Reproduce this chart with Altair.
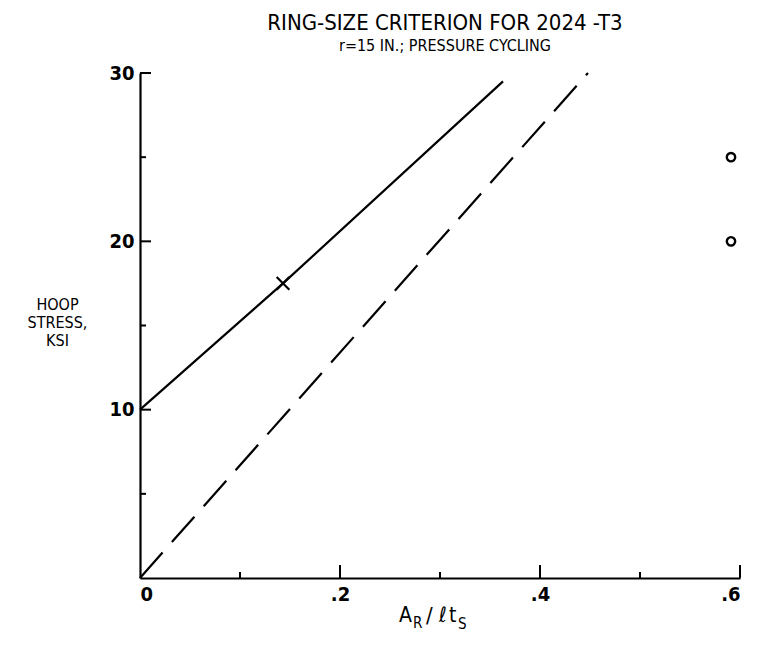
import altair as alt
import pandas as pd

# ---- data ----
solid_x = [0.0, 0.143, 0.363]
solid_y = [10.0, 17.5, 29.5]
dashed_x = [0.0, 0.448]
dashed_y = [0.0, 30.0]
cross_x = [0.143]
cross_y = [17.5]
circle_x = [0.591, 0.591]
circle_y = [25.0, 20.0]
x_major = [0.2, 0.4, 0.6]
x_minor = [0.1, 0.3, 0.5]
y_major = [10, 20, 30]
y_minor = [5, 15, 25]
x_labels = [0.0, 0.2, 0.4, 0.6]
y_labels = [10, 20, 30]

W, H = 600, 505
FONT = "Liberation Sans Narrow, DejaVu Sans Condensed, sans-serif"

xs = alt.Scale(domain=[0, 0.6], nice=False, zero=False)
ys = alt.Scale(domain=[0, 30], nice=False, zero=False)

solid_df = pd.DataFrame({"x": solid_x, "y": solid_y})
dashed_df = pd.DataFrame({"x": dashed_x, "y": dashed_y})
cross_df = pd.DataFrame({"x": cross_x, "y": cross_y})
circ_df = pd.DataFrame({"x": circle_x, "y": circle_y})

xaxis = alt.Axis(values=x_labels, ticks=False, tickSize=0, grid=False,
                 labelExpr="datum.value == 0 ? '0' : replace(format(datum.value, '.1f'), '0.', '.')",
                 labelFontSize=20, labelFont=FONT, labelFontWeight="bold", labelPadding=6,
                 labelColor="black", domainColor="black", domainWidth=2.2, title=None)
yaxis = alt.Axis(values=y_labels, ticks=False, tickSize=0, grid=False,
                 labelFontSize=20, labelFont=FONT, labelFontWeight="bold", labelPadding=6,
                 labelColor="black", domainColor="black", domainWidth=2.2,
                 title=["HOOP", "STRESS,", "KSI"], titleAngle=0, titleAlign="center",
                 titleBaseline="top", titleX=-83, titleY=223, titleFont=FONT,
                 titleFontSize=16, titleFontWeight="normal", titleLineHeight=18,
                 titleColor="black")

solid = alt.Chart(solid_df).mark_line(color="black", strokeWidth=2.2).encode(
    x=alt.X("x:Q", scale=xs, axis=xaxis),
    y=alt.Y("y:Q", scale=ys, axis=yaxis),
)
dashed = alt.Chart(dashed_df).mark_line(color="black", strokeWidth=2.2, strokeDash=[34, 14]).encode(
    x=alt.X("x:Q", scale=xs), y=alt.Y("y:Q", scale=ys))
cross = alt.Chart(cross_df).mark_point(shape="M-1,-1L1,1M-1,1L1,-1", filled=False,
                                        color="black", strokeWidth=2.2, size=160, opacity=1).encode(
    x=alt.X("x:Q", scale=xs), y=alt.Y("y:Q", scale=ys))
circles = alt.Chart(circ_df).mark_point(shape="circle", filled=False, color="black",
                                         strokeWidth=2.4, size=70, opacity=1).encode(
    x=alt.X("x:Q", scale=xs), y=alt.Y("y:Q", scale=ys))

xt_major = alt.Chart(pd.DataFrame({"v": x_major})).mark_rule(color="black", strokeWidth=2).encode(
    x=alt.X("v:Q", scale=xs), y=alt.value(H), y2=alt.value(H - 13))
xt_minor = alt.Chart(pd.DataFrame({"v": x_minor})).mark_rule(color="black", strokeWidth=2).encode(
    x=alt.X("v:Q", scale=xs), y=alt.value(H), y2=alt.value(H - 6))
yt_major = alt.Chart(pd.DataFrame({"v": y_major})).mark_rule(color="black", strokeWidth=2).encode(
    y=alt.Y("v:Q", scale=ys), x=alt.value(0), x2=alt.value(11))
yt_minor = alt.Chart(pd.DataFrame({"v": y_minor})).mark_rule(color="black", strokeWidth=2).encode(
    y=alt.Y("v:Q", scale=ys), x=alt.value(0), x2=alt.value(6))

def txt(s, x, y, size):
    return alt.Chart(pd.DataFrame({"t": [s]})).mark_text(
        align="left", baseline="alphabetic", font=FONT, fontSize=size, color="black"
    ).encode(text="t:N", x=alt.value(x), y=alt.value(y))

xtitle = (txt("A", 259, 549, 21) + txt("R", 273, 555, 15) +
          txt("/", 286, 550, 22) + txt("\u2113", 299, 549, 21) +
          txt("t", 309, 549, 21) + txt("S", 318, 556, 15))

chart = alt.layer(solid, dashed, cross, circles, xt_major, xt_minor, yt_major, yt_minor, xtitle).properties(
    width=W, height=H,
    background="white",
    title=alt.TitleParams(
        text="RING-SIZE CRITERION FOR 2024 -T3",
        subtitle="r=15 IN.; PRESSURE CYCLING",
        font=FONT, fontSize=22, fontWeight="normal", color="black",
        subtitleFont=FONT, subtitleFontSize=16, subtitleColor="black",
        subtitlePadding=3, anchor="middle", offset=8, dx=5),
    autosize=alt.AutoSizeParams(type="none"),
    padding={"left": 132, "top": 65, "right": 8, "bottom": 54},
).configure_view(stroke=None)

chart.save("out.html", embed_options={"renderer": "svg", "actions": False})
